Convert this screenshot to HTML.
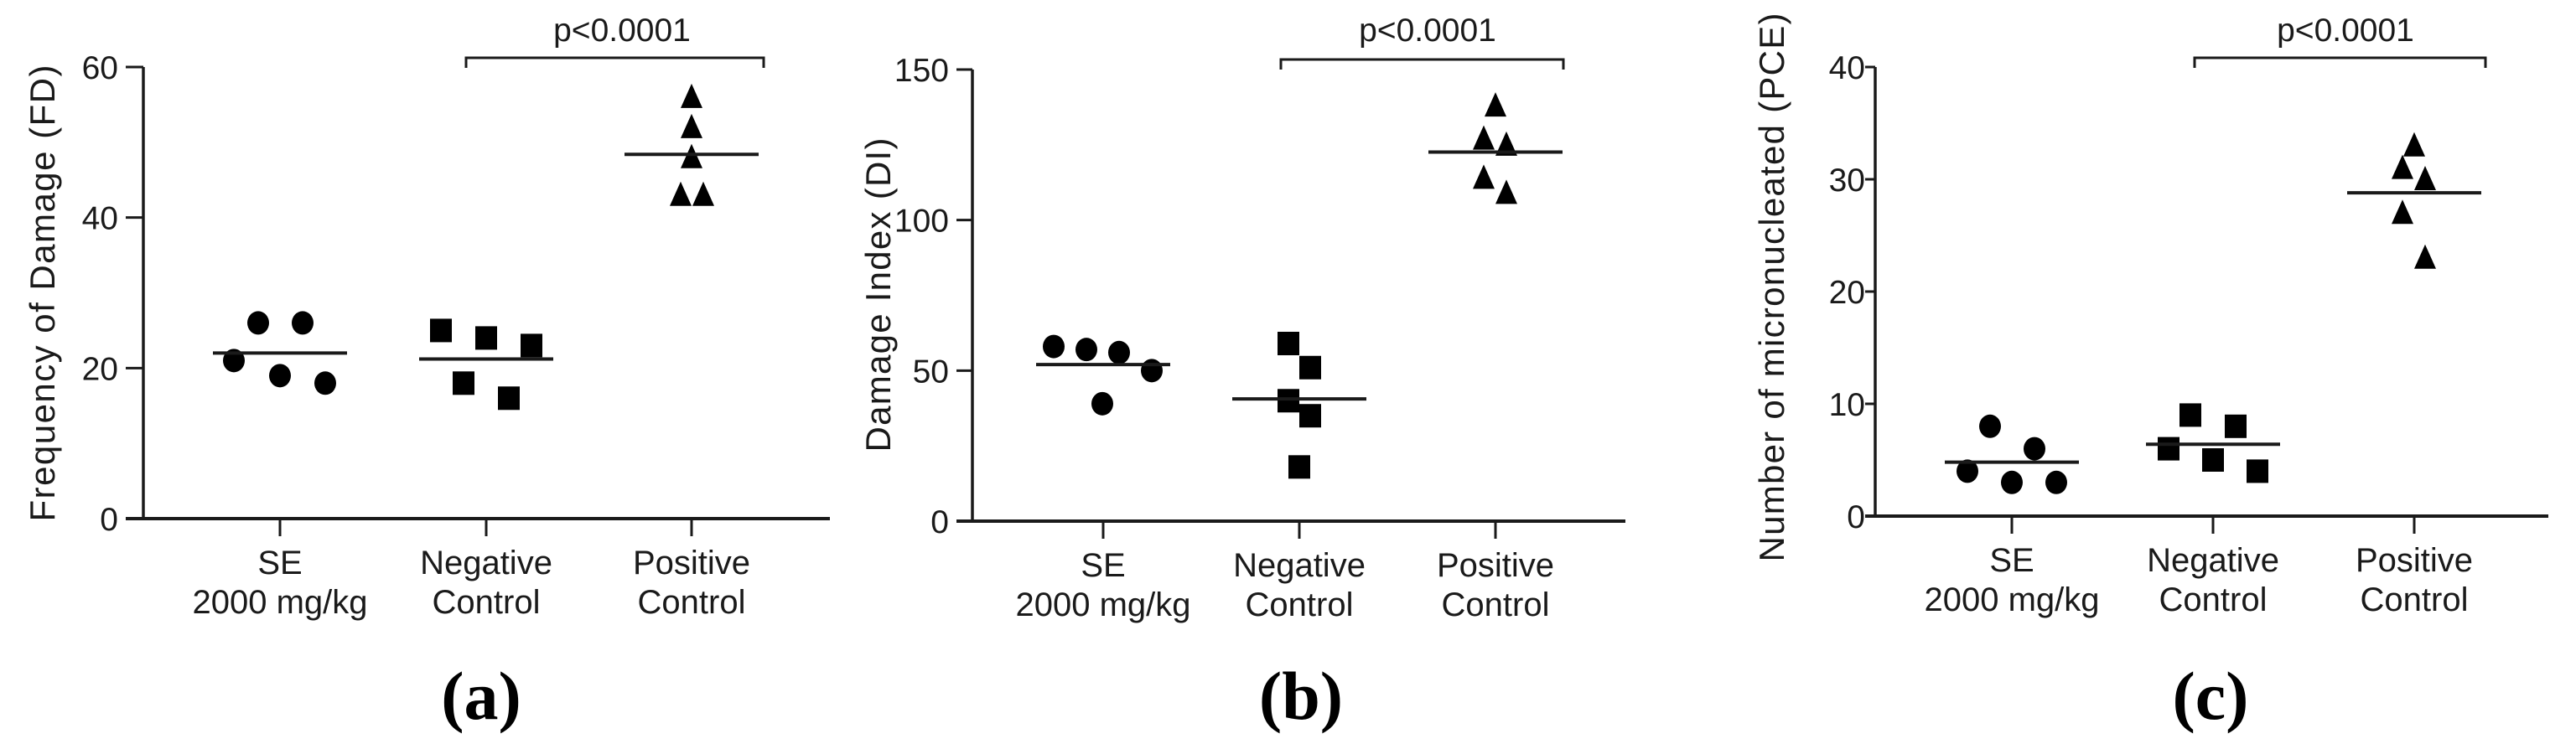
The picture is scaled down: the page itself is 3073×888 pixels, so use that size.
<!DOCTYPE html>
<html><head><meta charset="utf-8"><style>
html,body{margin:0;padding:0;background:#fff;}
svg{display:block;font-family:"Liberation Sans",Arial,sans-serif;}
</style></head><body>
<svg id="fig" width="3073" height="888" viewBox="0 0 3073 888" xmlns="http://www.w3.org/2000/svg"></svg>
<script>
// ---- data ----
const categories = ["SE|2000 mg/kg", "Negative|Control", "Positive|Control"];
const fdSE = [26, 26, 21, 19, 18];
const fdNC = [25, 24, 23, 18, 16];
const fdPC = [56, 52, 48, 43, 43];
const diSE = [58, 57, 56, 50, 39];
const diNC = [59, 51, 40, 35, 18];
const diPC = [138, 127, 125, 114, 109];
const mnSE = [8, 6, 4, 3, 3];
const mnNC = [9, 8, 6, 5, 4];
const mnPC = [33, 31, 30, 27, 23];
const fdTicks = [0, 20, 40, 60];
const diTicks = [0, 50, 100, 150];
const mnTicks = [0, 10, 20, 30, 40];
const pLabel = "p<0.0001";

// ---- layout (not data) ----
const panels = [
  {key:"a", title:"Frequency of Damage (FD)", sets:[fdSE,fdNC,fdPC], ticks:fdTicks, max:60,
   ax:171, top:80, bottom:619, right:990, cx:[334,580,825], tickRight:141, tickLen:21, titleX:50, titleY:350, titleLen:545,
   jit:[[-26,27,-55,0,54],[-54,0,54,-27,27],[0,0,0,-13,14]], bx:[556,911], by:69, px:742, label:"(a)", lx:574},
  {key:"b", title:"Damage Index (DI)", sets:[diSE,diNC,diPC], ticks:diTicks, max:150,
   ax:1160, top:83, bottom:622, right:1939, cx:[1316,1550,1784], tickRight:1132, tickLen:19, titleX:1047, titleY:352, titleLen:375,
   jit:[[-59,-20,19,58,-1],[-13,13,-13,13,0],[0,-14,13,-14,13]], bx:[1528,1865], by:71, px:1703, label:"(b)", lx:1552},
  {key:"c", title:"Number of micronucleated (PCE)", sets:[mnSE,mnNC,mnPC], ticks:mnTicks, max:40,
   ax:2237, top:80, bottom:616, right:3040, cx:[2400,2640,2880], tickRight:2225, tickLen:12, titleX:2113, titleY:343, titleLen:655,
   jit:[[-26,27,-53,0,53],[-27,27,-53,0,53],[0,-14,13,-14,13]], bx:[2618,2965], by:69, px:2798, label:"(c)", lx:2637}
];
const NS = "http://www.w3.org/2000/svg";
const svg = document.getElementById("fig");
function mk(tag, attrs, parent, text){
  const e = document.createElementNS(NS, tag);
  for (const k in attrs) e.setAttribute(k, attrs[k]);
  if (text !== undefined) e.textContent = text;
  (parent||svg).appendChild(e);
  return e;
}
const INK = "#1a1a1a";
panels.forEach(p => {
  const g = mk("g", {});
  
  
  const y = v => p.bottom - (v / p.max) * (p.bottom - p.top);
  const ya = mk("line", {x1:p.ax, y1:y(p.max), x2:p.ax, y2:p.bottom+2, stroke:INK, "stroke-width":3.5}, g);
  
  
  p.ticks.forEach(t => {
    mk("line", {x1:p.ax-p.tickLen, y1:y(t), x2:p.ax, y2:y(t), stroke:INK, "stroke-width":3}, g);
    const tl = mk("text", {x:p.tickRight, y:y(t)+14, "font-size":39, "text-anchor":"end", fill:INK}, g, String(t));
    
    
  });
  const xa = mk("line", {x1:p.ax-p.tickLen, y1:p.bottom, x2:p.right, y2:p.bottom, stroke:INK, "stroke-width":4}, g);
  
  
  categories.forEach((c, i) => {
    mk("line", {x1:p.cx[i], y1:p.bottom, x2:p.cx[i], y2:p.bottom+21, stroke:INK, "stroke-width":3}, g);
    const parts = c.split("|");
    const t = mk("text", {x:p.cx[i], y:p.bottom+66, "font-size":40, "text-anchor":"middle", fill:INK}, g);
    
    
    mk("tspan", {x:p.cx[i], dy:0}, t, parts[0]);
    mk("tspan", {x:p.cx[i], dy:47}, t, parts[1]);
  });
  const yt = mk("text", {x:0, y:0, transform:`translate(${p.titleX+15},${p.titleY}) rotate(-90)`,
    "font-size":42, "text-anchor":"middle", fill:INK, textLength:p.titleLen, lengthAdjust:"spacing"}, g, p.title);
  
  
  p.sets.forEach((vals, gi) => {
    const cx = p.cx[gi];
    vals.forEach((v, k) => {
      const x = cx + p.jit[gi][k], yy = y(v);
      let m;
      if (gi === 0) m = mk("ellipse", {cx:x, cy:yy, rx:13, ry:14, fill:"#000"}, g);
      else if (gi === 1) m = mk("rect", {x:x-13, y:yy-14, width:26, height:28, fill:"#000"}, g);
      else m = mk("polygon", {points:`${x},${yy-16} ${x-13},${yy+13} ${x+13},${yy+13}`, fill:"#000"}, g);
      
      
    });
    const mean = vals.reduce((a,b)=>a+b,0)/vals.length;
    const ml = mk("line", {x1:cx-80, y1:y(mean), x2:cx+80, y2:y(mean), stroke:INK, "stroke-width":4}, g);
    
    
  });
  const br = mk("polyline", {points:`${p.bx[0]},${p.by+12} ${p.bx[0]},${p.by} ${p.bx[1]},${p.by} ${p.bx[1]},${p.by+12}`, fill:"none", stroke:INK, "stroke-width":3}, g);
  
  
  const pt = mk("text", {x:p.px, y:49, "font-size":39, "text-anchor":"middle", fill:INK}, g, pLabel);
  
  
  const pl = mk("text", {x:p.lx, y:858, "font-size":82, "font-weight":"bold", "text-anchor":"middle", fill:"#000",
    "font-family":"'Liberation Serif',serif"}, g, p.label);
  
  
});
</script>
</body></html>
